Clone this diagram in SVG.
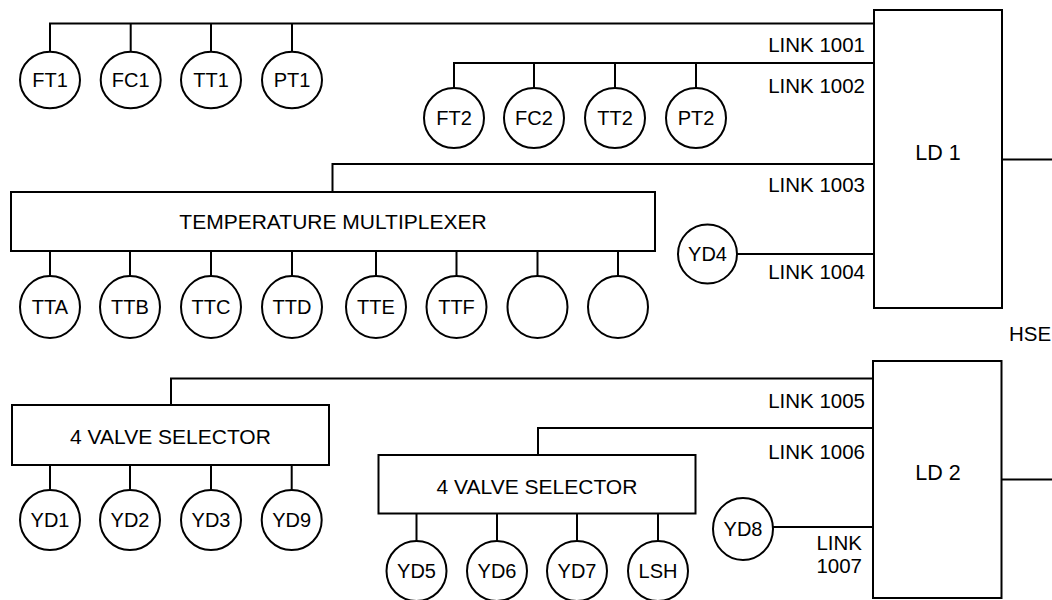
<svg xmlns="http://www.w3.org/2000/svg" width="1052" height="600" viewBox="0 0 1052 600">
<style>
.ln{stroke:#000;stroke-width:2;fill:none}
.sh{stroke:#000;stroke-width:2;fill:#fff}
text{font-family:"Liberation Sans",Arial,sans-serif;fill:#000}
.c{font-size:20px;text-anchor:middle}
.b{font-size:21px;text-anchor:middle}
.lk{font-size:20.5px;text-anchor:end}
</style>
<rect width="1052" height="600" fill="#fff"/>
<g id="connectors">
<path class="ln" d="M50,52 V23.5 H874 M130.7,23.5 V52 M211,23.5 V52 M292,23.5 V52"/>
<path class="ln" d="M454,88 V63 H874 M534,63 V88 M615,63 V88 M696,63 V88"/>
<path class="ln" d="M332.5,192 V164 H874"/>
<path class="ln" d="M50,251 V276 M130,251 V276 M211,251 V276 M292,251 V276 M376,251 V276 M456.5,251 V276 M537.5,251 V276 M618,251 V276"/>
<path class="ln" d="M737,254 H874"/>
<path class="ln" d="M1002,159.5 H1052"/>
<path class="ln" d="M171,405 V378.5 H873"/>
<path class="ln" d="M50,465 V490 M130,465 V490 M211,465 V490 M291.7,465 V490"/>
<path class="ln" d="M538,455 V428 H873"/>
<path class="ln" d="M416.5,513.5 V541 M497,513.5 V541 M577,513.5 V541 M658,513.5 V541"/>
<path class="ln" d="M773,527 H873"/>
<path class="ln" d="M1001.5,479.5 H1052"/>
</g>
<g id="ld1"><rect class="sh" x="874" y="10" width="128" height="298"/><text class="b" x="938" y="159.5" style="font-size:21.5px">LD 1</text></g>
<g id="ld2"><rect class="sh" x="873" y="361" width="128.5" height="237"/><text class="b" x="938" y="480" style="font-size:21.5px">LD 2</text></g>
<g id="labels">
<text class="lk" x="865" y="51.7">LINK 1001</text>
<text class="lk" x="865" y="93.3">LINK 1002</text>
<text class="lk" x="865" y="191.7">LINK 1003</text>
<text class="lk" x="865" y="279.3">LINK 1004</text>
<text class="lk" x="865" y="408.3">LINK 1005</text>
<text class="lk" x="865" y="459.3">LINK 1006</text>
<text class="lk" x="862" y="550">LINK</text>
<text class="lk" x="862" y="572.7">1007</text>
<text x="1009" y="341" style="font-size:20.5px">HSE</text>
</g>
<g id="ft1"><ellipse class="sh" cx="50" cy="80" rx="30" ry="28.3"/><text class="c" x="50" y="87">FT1</text></g>
<g id="fc1"><ellipse class="sh" cx="130.7" cy="80" rx="30" ry="28.3"/><text class="c" x="130.7" y="87">FC1</text></g>
<g id="tt1"><ellipse class="sh" cx="211" cy="80" rx="30" ry="28.3"/><text class="c" x="211" y="87">TT1</text></g>
<g id="pt1"><ellipse class="sh" cx="292" cy="80" rx="30" ry="28.3"/><text class="c" x="292" y="87">PT1</text></g>
<g id="ft2"><ellipse class="sh" cx="454" cy="118" rx="30" ry="30"/><text class="c" x="454" y="125">FT2</text></g>
<g id="fc2"><ellipse class="sh" cx="534" cy="118" rx="30" ry="30"/><text class="c" x="534" y="125">FC2</text></g>
<g id="tt2"><ellipse class="sh" cx="615" cy="118" rx="30" ry="30"/><text class="c" x="615" y="125">TT2</text></g>
<g id="pt2"><ellipse class="sh" cx="696" cy="118" rx="30" ry="30"/><text class="c" x="696" y="125">PT2</text></g>
<g id="tmux"><rect class="sh" x="11" y="192" width="644" height="59"/><text class="b" x="333" y="229">TEMPERATURE MULTIPLEXER</text></g>
<g id="tta"><ellipse class="sh" cx="50" cy="307" rx="30" ry="31"/><text class="c" x="50" y="314">TTA</text></g>
<g id="ttb"><ellipse class="sh" cx="130" cy="307" rx="30" ry="31"/><text class="c" x="130" y="314">TTB</text></g>
<g id="ttc"><ellipse class="sh" cx="211" cy="307" rx="30" ry="31"/><text class="c" x="211" y="314">TTC</text></g>
<g id="ttd"><ellipse class="sh" cx="292" cy="307" rx="30" ry="31"/><text class="c" x="292" y="314">TTD</text></g>
<g id="tte"><ellipse class="sh" cx="376" cy="307" rx="30" ry="31"/><text class="c" x="376" y="314">TTE</text></g>
<g id="ttf"><ellipse class="sh" cx="456.5" cy="307" rx="30" ry="31"/><text class="c" x="456.5" y="314">TTF</text></g>
<g id="tt7"><ellipse class="sh" cx="537.5" cy="307" rx="30" ry="31"/></g>
<g id="tt8"><ellipse class="sh" cx="618" cy="307" rx="30" ry="31"/></g>
<g id="yd4"><ellipse class="sh" cx="707.5" cy="254" rx="29.5" ry="29.5"/><text class="c" x="707.5" y="261">YD4</text></g>
<g id="vs1"><rect class="sh" x="12" y="405" width="317" height="60"/><text class="b" x="170.5" y="444">4 VALVE SELECTOR</text></g>
<g id="yd1"><ellipse class="sh" cx="50" cy="520" rx="30" ry="30"/><text class="c" x="50" y="527">YD1</text></g>
<g id="yd2"><ellipse class="sh" cx="130" cy="520" rx="30" ry="30"/><text class="c" x="130" y="527">YD2</text></g>
<g id="yd3"><ellipse class="sh" cx="211" cy="520" rx="30" ry="30"/><text class="c" x="211" y="527">YD3</text></g>
<g id="yd9"><ellipse class="sh" cx="291.7" cy="520" rx="30" ry="30"/><text class="c" x="291.7" y="527">YD9</text></g>
<g id="vs2"><rect class="sh" x="378.5" y="455" width="317" height="58.5"/><text class="b" x="537" y="494">4 VALVE SELECTOR</text></g>
<g id="yd5"><ellipse class="sh" cx="416.5" cy="571" rx="30" ry="30"/><text class="c" x="416.5" y="578">YD5</text></g>
<g id="yd6"><ellipse class="sh" cx="497" cy="571" rx="30" ry="30"/><text class="c" x="497" y="578">YD6</text></g>
<g id="yd7"><ellipse class="sh" cx="577" cy="571" rx="30" ry="30"/><text class="c" x="577" y="578">YD7</text></g>
<g id="lsh"><ellipse class="sh" cx="658" cy="571" rx="30" ry="30"/><text class="c" x="658" y="578">LSH</text></g>
<g id="yd8"><ellipse class="sh" cx="743" cy="529" rx="30" ry="31"/><text class="c" x="743" y="536">YD8</text></g>
</svg>
